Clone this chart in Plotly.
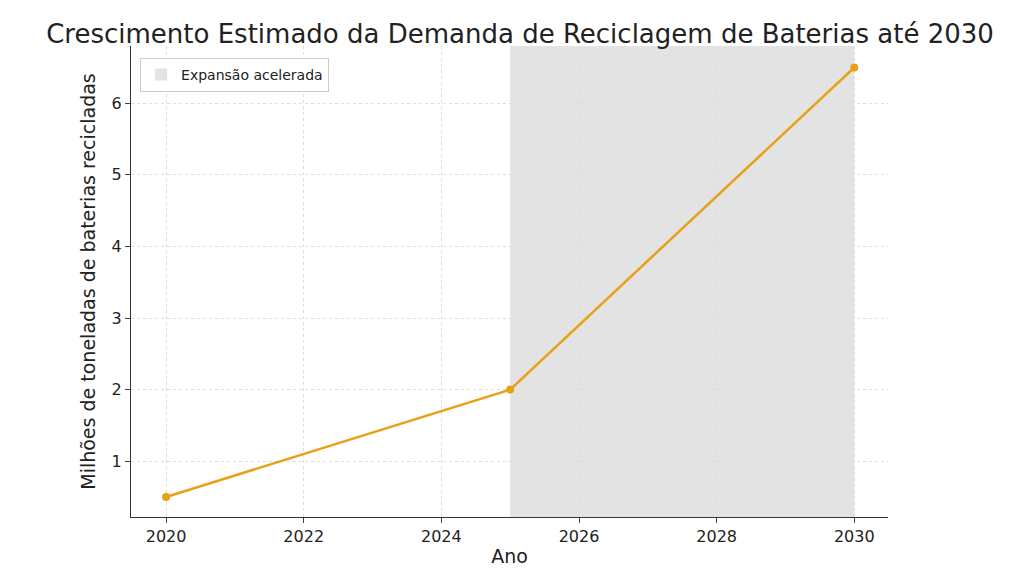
import plotly.graph_objects as go

years = [2020, 2025, 2030]
values = [0.5, 2.0, 6.5]
band = [2025, 2030]

fig = go.Figure()
fig.add_trace(go.Scatter(x=years, y=values, mode="lines+markers",
    line=dict(color="#E6A117", width=2.5), marker=dict(size=8, color="#E6A117"),
    showlegend=False))
fig.add_shape(type="rect", xref="x", yref="paper", x0=band[0], x1=band[1], y0=0, y1=1,
    fillcolor="rgba(200,200,200,0.5)", line=dict(width=0), layer="below",
    showlegend=True, name="Expansão acelerada")
fig.update_layout(
    width=1024, height=576, plot_bgcolor="white", paper_bgcolor="white",
    font=dict(family="DejaVu Sans", size=16, color="#222"),
    title=dict(text="Crescimento Estimado da Demanda de Reciclagem de Baterias até 2030",
               x=0.5, y=0.955, xanchor="center", yanchor="middle", font=dict(size=26)),
    margin=dict(l=123, r=144, t=38, b=67),
    legend=dict(x=0.012, y=0.975, xanchor="left", yanchor="top", bgcolor="white",
                bordercolor="#ccc", borderwidth=1, font=dict(size=14)),
    xaxis=dict(title=dict(text="Ano", standoff=4), range=[2019.49, 2030.49], tickvals=[2020,2022,2024,2026,2028,2030],
               showline=True, linecolor="#333", ticks="outside", showgrid=True,
               gridcolor="#ddd", griddash="dot", zeroline=False),
    yaxis=dict(title=dict(text="Milhões de toneladas de baterias recicladas", standoff=10),
               range=[0.22, 6.8], tickvals=[1,2,3,4,5,6],
               showline=True, linecolor="#333", ticks="outside", showgrid=True,
               gridcolor="#ddd", griddash="dot", zeroline=False),
)
fig.write_html("out.html")
